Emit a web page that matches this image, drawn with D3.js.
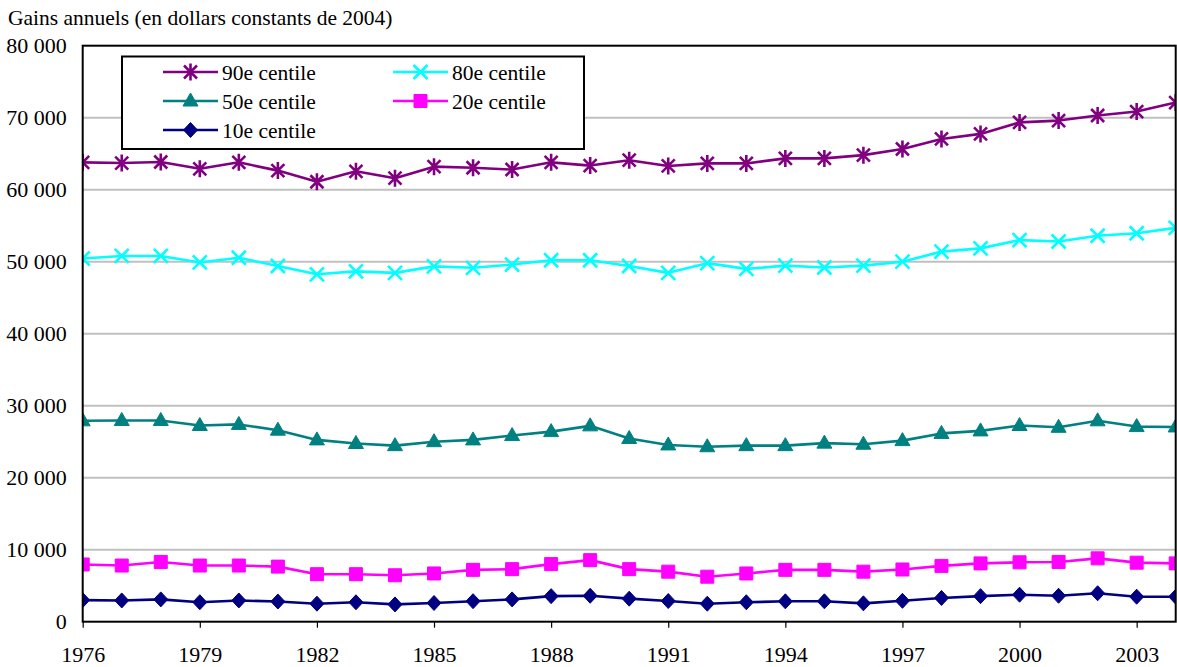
<!DOCTYPE html>
<html>
<head>
<meta charset="utf-8">
<script src="https://cdn.jsdelivr.net/npm/d3@7"></script>
<style>
  html, body { margin: 0; padding: 0; background: #fff; }
</style>
</head>
<body>
<svg id="chart" width="1177" height="667"></svg>
<script>
// Annual earnings by centile, 1976-2004 (constant 2004 dollars)
const years = d3.range(1976, 2005);
const p90 = [63800, 63700, 63850, 62900, 63800, 62650, 61100, 62550, 61600, 63200,
             63050, 62800, 63800, 63350, 64100, 63300, 63650, 63650, 64350, 64350,
             64800, 65650, 67050, 67750, 69350, 69600, 70300, 70850, 72100];
const p80 = [50450, 50800, 50800, 49900, 50550, 49400, 48250, 48650, 48450, 49350,
             49150, 49600, 50200, 50200, 49400, 48450, 49800, 49000, 49450, 49200,
             49450, 50000, 51400, 51850, 53000, 52800, 53600, 53950, 54700];
const p50 = [27900, 27950, 27950, 27250, 27400, 26600, 25250, 24750, 24450, 25000,
             25250, 25850, 26400, 27200, 25450, 24550, 24300, 24450, 24450, 24800,
             24650, 25150, 26150, 26500, 27250, 27000, 27900, 27100, 27050];
const p20 = [7950, 7800, 8300, 7800, 7800, 7650, 6600, 6600, 6450, 6700,
             7200, 7300, 8000, 8550, 7300, 6950, 6250, 6700, 7200, 7200,
             6950, 7250, 7750, 8100, 8250, 8300, 8800, 8200, 8100];
const p10 = [3000, 2950, 3100, 2700, 2950, 2800, 2500, 2700, 2400, 2600,
             2850, 3100, 3550, 3600, 3200, 2870, 2500, 2700, 2830, 2830,
             2550, 2900, 3300, 3550, 3750, 3600, 3950, 3470, 3470];
const yTicks = [0, 10000, 20000, 30000, 40000, 50000, 60000, 70000, 80000];
const xTicks = [1976, 1979, 1982, 1985, 1988, 1991, 1994, 1997, 2000, 2003];

const seriesNames = ["90e centile", "80e centile", "50e centile", "20e centile", "10e centile"];
const seriesValues = [p90, p80, p50, p20, p10];
const seriesColors = ["#800080", "#00ffff", "#008080", "#ff00ff", "#000080"];
const seriesMarkers = ["asterisk", "cross", "triangle", "square", "diamond"];

const FONT = "Liberation Serif";

const svg = d3.select("#chart");
const plot = { left: 82.7, right: 1175.7, top: 45.7, bottom: 621.7 };

const x = d3.scaleLinear().domain([1976, 2004]).range([plot.left, plot.right]);
const y = d3.scaleLinear().domain([0, 80000]).range([plot.bottom, plot.top]);

const fmt = v => d3.format(",")(v).replace(/,/g, " ");

// Title
svg.append("text")
  .attr("x", 8).attr("y", 25)
  .attr("font-family", FONT)
  .attr("font-size", 21.5)
  .attr("fill", "#000")
  .text("Gains annuels (en dollars constants de 2004)");

// Horizontal grid
svg.append("g").selectAll("line")
  .data(yTicks.filter(d => d > 0 && d < 80000))
  .join("line")
  .attr("x1", plot.left).attr("x2", plot.right)
  .attr("y1", d => y(d)).attr("y2", d => y(d))
  .attr("stroke", "#c0c0c0").attr("stroke-width", 2);

// Y axis labels
const yAxis = d3.axisLeft(y).tickValues(yTicks).tickFormat(fmt).tickSize(0).tickPadding(16);
const gy = svg.append("g").attr("transform", `translate(${plot.left},0)`).call(yAxis);
gy.attr("font-family", FONT).attr("font-size", 22);
gy.select(".domain").remove();
gy.selectAll("text").attr("fill", "#000");

// X axis ticks and labels
const xAxis = d3.axisBottom(x).tickValues(xTicks).tickFormat(d3.format("d")).tickSize(6).tickPadding(19);
const gx = svg.append("g").attr("transform", `translate(0,${plot.bottom})`).call(xAxis);
gx.attr("font-family", FONT).attr("font-size", 22);
gx.select(".domain").remove();
gx.selectAll("line").attr("stroke", "#000").attr("stroke-width", 1.2);
gx.selectAll("text").attr("fill", "#000");

// Marker shapes
function markerPath(type) {
  switch (type) {
    case "asterisk": return "M-6.5,-6.5L6.5,6.5M-6.5,6.5L6.5,-6.5M0,-8.5L0,8.5";
    case "cross": return "M-7,-7L7,7M-7,7L7,-7";
    case "triangle": return "M0,-8L7.5,5L-7.5,5Z";
    case "square": return "M-6.5,-6.5H6.5V6.5H-6.5Z";
    case "diamond": return "M0,-7.5L7,0L0,7.5L-7,0Z";
  }
}
function drawMarker(g, type, color) {
  const filled = type === "triangle" || type === "square" || type === "diamond";
  g.append("path")
    .attr("d", markerPath(type))
    .attr("fill", filled ? color : "none")
    .attr("stroke", color)
    .attr("stroke-width", filled ? 1 : 2.6)
    .attr("stroke-linecap", "butt");
}

// Clip series to the plot frame
svg.append("clipPath").attr("id", "plotClip")
  .append("rect").attr("x", plot.left).attr("y", plot.top - 10)
  .attr("width", plot.right - plot.left).attr("height", plot.bottom - plot.top + 10);

const line = d3.line().x((d, i) => x(years[i])).y(d => y(d));
const seriesG = svg.append("g").attr("clip-path", "url(#plotClip)");

// Draw bottom series first so the upper series sit on top
for (let s = seriesValues.length - 1; s >= 0; s--) {
  const vals = seriesValues[s];
  seriesG.append("path")
    .attr("d", line(vals))
    .attr("fill", "none")
    .attr("stroke", seriesColors[s])
    .attr("stroke-width", 2.6)
    .attr("stroke-linejoin", "round");
  vals.forEach((v, i) => {
    const g = seriesG.append("g").attr("transform", `translate(${x(years[i])},${y(v)})`);
    drawMarker(g, seriesMarkers[s], seriesColors[s]);
  });
}

// Plot frame
svg.append("rect")
  .attr("x", plot.left).attr("y", plot.top)
  .attr("width", plot.right - plot.left).attr("height", plot.bottom - plot.top)
  .attr("fill", "none").attr("stroke", "#000").attr("stroke-width", 2);

// Legend
const legend = svg.append("g");
legend.append("rect")
  .attr("x", 122).attr("y", 56.5).attr("width", 462).attr("height", 92.5)
  .attr("fill", "#fff").attr("stroke", "#000").attr("stroke-width", 2);

const legendCols = [163, 393];
const legendRows = [72, 101, 130];
seriesNames.forEach((name, s) => {
  const lx = legendCols[s % 2];
  const ly = legendRows[Math.floor(s / 2)];
  const g = legend.append("g");
  g.append("line")
    .attr("x1", lx).attr("x2", lx + 55).attr("y1", ly).attr("y2", ly)
    .attr("stroke", seriesColors[s]).attr("stroke-width", 2.6);
  drawMarker(g.append("g").attr("transform", `translate(${lx + 27.5},${ly})`), seriesMarkers[s], seriesColors[s]);
  g.append("text")
    .attr("x", lx + 59).attr("y", ly + 7.5)
    .attr("font-family", FONT)
    .attr("font-size", 21.5)
    .attr("fill", "#000")
    .text(name);
});
</script>
</body>
</html>
